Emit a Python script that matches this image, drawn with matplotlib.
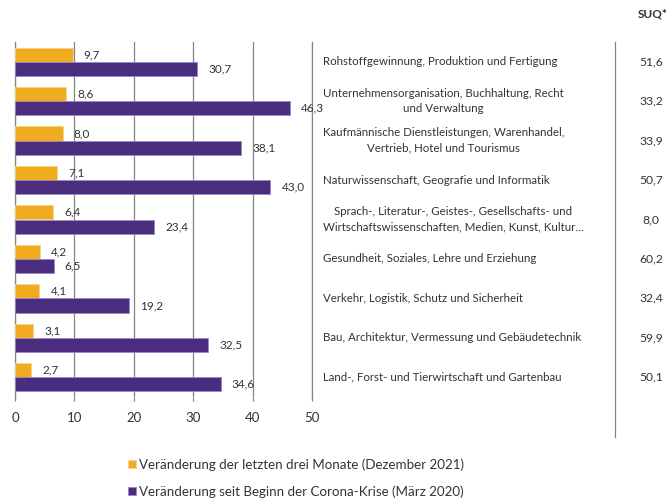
import matplotlib
matplotlib.use("Agg")
import matplotlib.pyplot as plt
from matplotlib.transforms import blended_transform_factory
from matplotlib.lines import Line2D
import numpy as np

plt.rcParams['font.family'] = ['Lato', 'DejaVu Sans']

categories = [
    "Rohstoffgewinnung, Produktion und Fertigung",
    "Unternehmensorganisation, Buchhaltung, Recht\nund Verwaltung",
    "Kaufmännische Dienstleistungen, Warenhandel,\nVertrieb, Hotel und Tourismus",
    "Naturwissenschaft, Geografie und Informatik",
    "Sprach-, Literatur-, Geistes-, Gesellschafts- und\nWirtschaftswissenschaften, Medien, Kunst, Kultur…",
    "Gesundheit, Soziales, Lehre und Erziehung",
    "Verkehr, Logistik, Schutz und Sicherheit",
    "Bau, Architektur, Vermessung und Gebäudetechnik",
    "Land-, Forst- und Tierwirtschaft und Gartenbau",
]
three_months = [9.7, 8.6, 8.0, 7.1, 6.4, 4.2, 4.1, 3.1, 2.7]
since_corona = [30.7, 46.3, 38.1, 43.0, 23.4, 6.5, 19.2, 32.5, 34.6]
suq = [51.6, 33.2, 33.9, 50.7, 8.0, 60.2, 32.4, 59.9, 50.1]
x_ticks = [0, 10, 20, 30, 40, 50]
legend_labels = ["Veränderung der letzten drei Monate (Dezember 2021)",
                 "Veränderung seit Beginn der Corona-Krise (März 2020)"]
suq_header = "SUQ*"

ORANGE = "#F0AB1E"
PURPLE = "#4B2D80"
GRID = "#858585"
TEXT = "#333333"

def fmt(v):
    return f"{v:.1f}".replace('.', ',')

W, H = 670, 499
fig = plt.figure(figsize=(W / 100, H / 100), dpi=100)
ax = fig.add_axes([15 / W, 1 - 397 / H, (312 - 15) / W, (397 - 42) / H])

y = np.arange(len(categories))
bh = 0.36
b1 = ax.barh(y - bh / 2, three_months, height=bh, color=ORANGE,
             edgecolor="#F7D28A", linewidth=0.6, zorder=3)
b2 = ax.barh(y + bh / 2, since_corona, height=bh, color=PURPLE,
             edgecolor="#9A88C8", linewidth=0.6, zorder=3)

for yi, v in zip(y - bh / 2, three_months):
    ax.annotate(fmt(v), (v, yi), xytext=(8, 0), textcoords="offset points",
                ha="left", va="center", fontsize=8.5, color=TEXT, zorder=4)
for yi, v in zip(y + bh / 2, since_corona):
    ax.annotate(fmt(v), (v, yi), xytext=(8, 0), textcoords="offset points",
                ha="left", va="center", fontsize=8.5, color=TEXT, zorder=4)

ax.set_xlim(0, 50)
ax.set_ylim(len(categories) - 0.5, -0.5)
ax.set_xticks(x_ticks)
ax.set_xticklabels([str(t) for t in x_ticks], fontsize=9.5, color=TEXT)
ax.set_yticks([])
ax.tick_params(axis="x", length=3, width=0.9, color=GRID, pad=8)
ax.grid(axis="x", color=GRID, linewidth=0.9, zorder=0)
for s in ["top", "bottom"]:
    ax.spines[s].set_visible(False)
for s in ["left", "right"]:
    ax.spines[s].set_color(GRID)
    ax.spines[s].set_linewidth(0.9)

tr = blended_transform_factory(fig.transFigure, ax.transData)
for yi, c, s in zip(y, categories, suq):
    ax.text(323 / W, yi, c, transform=tr, ha="left", va="center",
            multialignment="center", fontsize=8.3, color=TEXT, linespacing=1.5)
    ax.text(651 / W, yi, fmt(s), transform=tr, ha="center", va="center",
            fontsize=8.7, color=TEXT)

fig.text(653 / W, 1 - 14 / H, suq_header, ha="center", va="center",
         fontsize=8.5, fontweight="bold", color=TEXT)

fig.add_artist(Line2D([615 / W, 615 / W], [1 - 42 / H, 1 - 437 / H],
                      transform=fig.transFigure, color=GRID, linewidth=0.9))

fig.legend([b1, b2], legend_labels, loc="upper left",
           bbox_to_anchor=(116 / W, 1 - 446 / H), frameon=False,
           fontsize=9.6, handlelength=0.6, handleheight=0.6,
           handletextpad=0.25, labelspacing=1.1, labelcolor=TEXT)

fig.savefig("out.png", dpi=100)
